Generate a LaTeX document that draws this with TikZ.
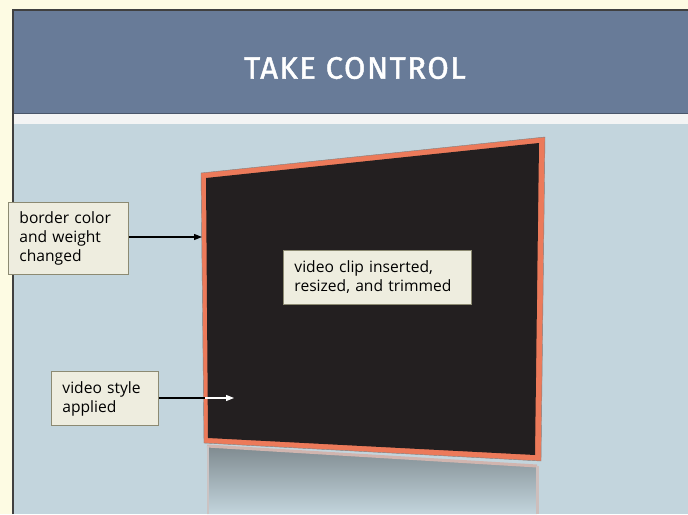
\documentclass[tikz,border=0pt]{standalone}
\usepackage{fontspec}
\setmainfont{Open Sans}
\newfontfamily\titlefont[LetterSpace=5,FakeBold=1.4]{Fira Sans}
\usetikzlibrary{arrows.meta}
\definecolor{cream}{HTML}{FDFBE3}
\definecolor{header}{HTML}{687B98}
\definecolor{strip}{HTML}{F3F4F4}
\definecolor{panel}{HTML}{C3D5DD}
\definecolor{screen}{HTML}{231F20}
\definecolor{orangeb}{HTML}{EC7A5A}
\definecolor{labelfill}{HTML}{EEEDDF}
\definecolor{labeldraw}{HTML}{8C8A72}
\tikzset{
  callout/.style={draw=labeldraw, line width=0.9pt, fill=labelfill, align=left,
    font=\fontsize{15.6}{19}\selectfont, inner xsep=11pt, inner ysep=0pt, anchor=north west},
  pointer/.style={line width=1.2pt, -{Triangle[length=8pt,width=6pt]}},
}
\begin{document}
\begin{tikzpicture}[x=1pt,y=-1pt]
\useasboundingbox (0,0) rectangle (688,514);
\fill[cream] (0,0) rectangle (688,514);
% panel
\fill[panel] (13,10) rectangle (688,514);
\fill[header] (13,10) rectangle (688,113);
\fill[strip] (13,113) rectangle (688,124);
\draw[header!70!black, line width=0.6pt] (13,113) -- (688,113);
\draw[black!75, line width=1.2pt] (13,514) -- (13,10) -- (688,10);
\node[text=white, font=\titlefont\fontsize{31}{33}\selectfont] (title) at (355,68) {TAKE CONTROL};
% reflection
\shade[top color=black!35!panel, bottom color=panel] (207,446) -- (537,466) -- (537,514) -- (207,514) -- cycle;
\draw[orangeb!35!panel, line width=3pt] (207,446) -- (537,466);
\draw[orangeb!25!panel, line width=3pt] (537,466) -- (537,514);
\draw[orangeb!20!panel, line width=2pt] (208,446) -- (208,514);
% screen
\fill[orangeb] (201,173) -- (545,137) -- (541,461) -- (204,443) -- cycle;
\fill[screen] (206,178) -- (539,143) -- (535,455) -- (208,438) -- cycle;
\draw[black!50, line width=0.4pt] (201,173) -- (545,137) -- (541,461) -- (204,443) -- cycle;
% labels
\node[callout, minimum width=120pt, minimum height=72pt, text width=98pt] (border) at (8,202) {border color\\and weight\\changed};
\node[callout, minimum width=107pt, minimum height=54pt, text width=85pt] (style) at (51,371) {video style\\applied};
\node[callout, minimum width=188pt, minimum height=54pt, text width=166pt] (clip) at (283,250) {video clip inserted,\\resized, and trimmed};
\coordinate (bt) at (202,237);
\coordinate (se) at (205,398);
\coordinate (st) at (234,398);
\draw[pointer] (border.east |- bt) -- (bt);
\draw[line width=1.2pt] (style.east |- se) -- (se);
\draw[pointer, white] (se) -- (st);
\end{tikzpicture}
\end{document}
